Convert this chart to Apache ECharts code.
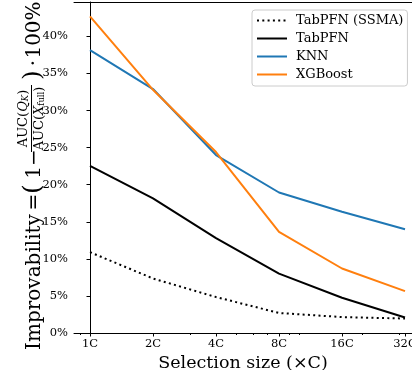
<!DOCTYPE html>
<html>
<head>
<meta charset="utf-8">
<script src="https://cdn.jsdelivr.net/npm/echarts@6/dist/echarts.min.js"></script>
<style>
    html, body { margin: 0; padding: 0; background: #fff; }
    #chart { width: 412px; height: 370px; }
</style>
</head>
<body>
<div id="chart"></div>
<script>

// selection size as multiples of C (log2 spaced on the x axis)
var sizes = [1, 2, 4, 8, 16, 32];
var sizeLabels = ["1C", "2C", "4C", "8C", "16C", "32C"];
var minorSizes = [0.9, 3, 5, 6, 7, 9, 10, 20, 30];

var ssma = [10.9, 7.35, 4.85, 2.7, 2.15, 1.95];
var tabpfn = [22.55, 18.15, 12.8, 8.0, 4.75, 2.1];
var knn = [38.15, 32.9, 24.0, 18.95, 16.35, 14.0];
var xgboost = [42.7, 32.8, 24.4, 13.65, 8.7, 5.65];

var yTicks = [0, 5, 10, 15, 20, 25, 30, 35, 40];

var FONT = "DejaVu Serif";

function toPoints(values) {
    return values.map(function (v, i) {
        return [Math.log2(sizes[i]), v];
    });
}

var majorPos = sizes.map(function (s) { return Math.log2(s); });
var minorPos = minorSizes.map(function (s) { return Math.log2(s); });

var xMin = -0.254, xMax = 5.111;

// rotated y label pieces: local x = -(screen y), local y = screen x
function piece(txt, sy, sx, size) {
    return {
        type: "text", x: -sy, y: sx,
        style: { text: txt, font: size + "px 'DejaVu Serif'", fill: "#000", align: "center", verticalAlign: "middle" }
    };
}

var option = {
    animation: false,
    backgroundColor: "#fff",
    grid: { left: 74, right: 0, top: 2, bottom: 37, outerBoundsMode: "none", containLabel: false },
    legend: {
        orient: "vertical",
        left: 252,
        top: 10,
        padding: [4, 4, 5, 4],
        itemGap: 5,
        itemWidth: 30,
        itemHeight: 14,
        borderColor: "#cccccc",
        borderWidth: 1,
        borderRadius: 3,
        backgroundColor: "rgba(255,255,255,0.8)",
        itemStyle: { opacity: 0 },
        textStyle: { fontFamily: FONT, fontSize: 13, color: "#000", padding: [0, 0, 0, 4] },
        data: ["TabPFN (SSMA)", "TabPFN", "KNN", "XGBoost"]
    },
    xAxis: [
        {
            type: "value",
            position: "bottom",
            min: xMin,
            max: xMax,
            splitLine: { show: false },
            axisLine: { show: true, onZero: false, lineStyle: { color: "#000", width: 1 } },
            axisTick: { show: true, inside: false, length: 3.5, customValues: majorPos, lineStyle: { color: "#000" } },
            axisLabel: {
                customValues: majorPos,
                margin: 5,
                fontFamily: FONT,
                fontSize: 11.5,
                color: "#000",
                formatter: function (v) {
                    var i = Math.round(v);
                    return sizeLabels[i];
                }
            },
            name: "Selection size (\u00d7C)",
            nameLocation: "middle",
            nameGap: 18,
            nameTextStyle: { fontFamily: FONT, fontSize: 17.5, color: "#000" }
        },
        {
            type: "value",
            position: "bottom",
            min: xMin,
            max: xMax,
            splitLine: { show: false },
            axisLine: { show: false, onZero: false },
            axisTick: { show: true, length: 2, customValues: minorPos, lineStyle: { color: "#000" } },
            axisLabel: { show: false }
        },
        {
            type: "value",
            position: "top",
            min: xMin,
            max: xMax,
            splitLine: { show: false },
            axisLine: { show: true, onZero: false, lineStyle: { color: "#000", width: 1 } },
            axisTick: { show: false },
            axisLabel: { show: false }
        }
    ],
    yAxis: {
        type: "value",
        min: 0,
        max: 44.64,
        splitLine: { show: false },
        axisLine: { show: true, lineStyle: { color: "#000", width: 1 } },
        axisTick: { show: true, length: 3.5, customValues: yTicks, lineStyle: { color: "#000" } },
        axisLabel: {
            customValues: yTicks,
            margin: 6,
            fontFamily: FONT,
            fontSize: 11.5,
            color: "#000",
            formatter: "{value}%"
        }
    },
    graphic: [
        {
            type: "group",
            x: 0,
            y: 0,
            rotation: Math.PI / 2,
            children: [
                piece("Improvability", 282, 35, 20),
                piece("=", 202, 35, 20),
                piece("(", 189, 33, 25),
                piece("1", 172.5, 35, 20),
                piece("\u2212", 157.5, 35, 20),
                {
                    type: "text", x: -118.5, y: 30,
                    style: {
                        text: "AUC({i|Q}{s|K})",
                        font: "13px 'DejaVu Serif'", fill: "#000", align: "center", verticalAlign: "bottom",
                        rich: {
                            i: { fontStyle: "italic", fontFamily: FONT, fontSize: 13 },
                            s: { fontStyle: "italic", fontFamily: FONT, fontSize: 8.5, verticalAlign: "bottom", lineHeight: 11 }
                        }
                    }
                },
                { type: "line", shape: { x1: -152, y1: 31.5, x2: -85, y2: 31.5 }, style: { stroke: "#000", lineWidth: 1 } },
                {
                    type: "text", x: -118.5, y: 33.5,
                    style: {
                        text: "AUC({i|X}{s|full})",
                        font: "13px 'DejaVu Serif'", fill: "#000", align: "center", verticalAlign: "top",
                        rich: {
                            i: { fontStyle: "italic", fontFamily: FONT, fontSize: 13 },
                            s: { fontFamily: FONT, fontSize: 8.5, verticalAlign: "bottom", lineHeight: 11 }
                        }
                    }
                },
                piece(")", 75, 33, 25),
                piece("\u00b7", 63, 35, 20),
                piece("100%", 30, 35, 20)
            ]
        }
    ],
    series: [
        {
            name: "TabPFN (SSMA)",
            type: "line",
            data: toPoints(ssma),
            symbol: "none",
            color: "#000",
            lineStyle: { color: "#000", width: 2, type: [2, 3.3] }
        },
        {
            name: "TabPFN",
            type: "line",
            data: toPoints(tabpfn),
            symbol: "none",
            color: "#000",
            lineStyle: { color: "#000", width: 2 }
        },
        {
            name: "KNN",
            type: "line",
            data: toPoints(knn),
            symbol: "none",
            color: "#1f77b4",
            lineStyle: { color: "#1f77b4", width: 2 }
        },
        {
            name: "XGBoost",
            type: "line",
            data: toPoints(xgboost),
            symbol: "none",
            color: "#ff7f0e",
            lineStyle: { color: "#ff7f0e", width: 2 }
        }
    ]
};

var chart = echarts.init(document.getElementById("chart"));
chart.setOption(option);

</script>
</body>
</html>
